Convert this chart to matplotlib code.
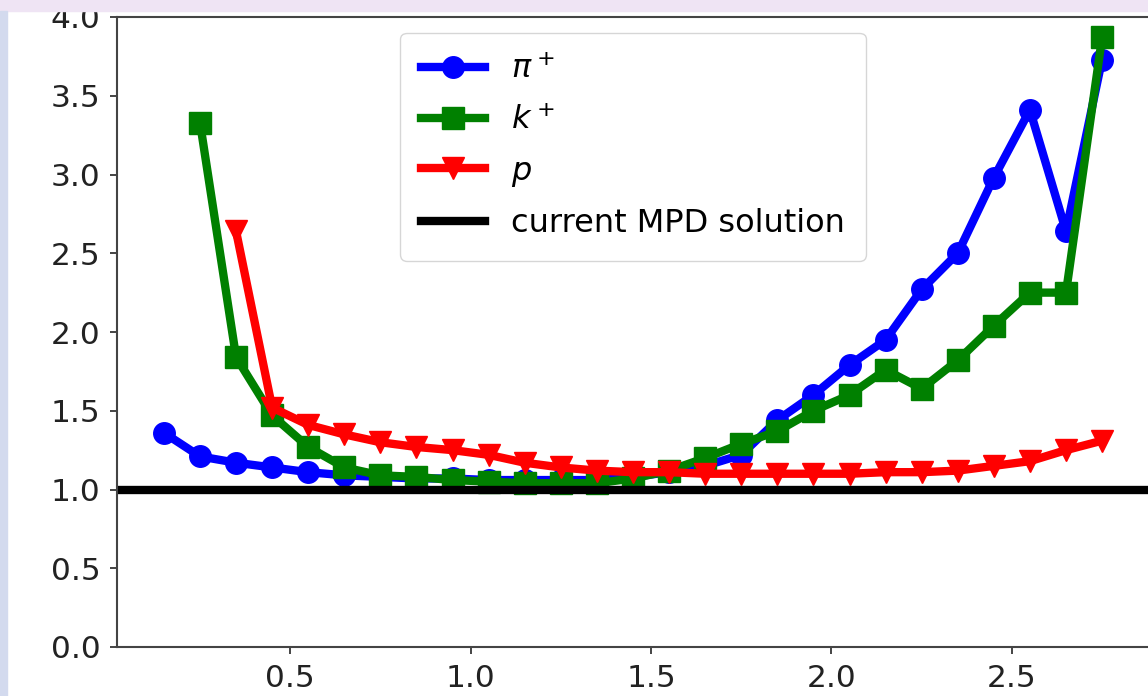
import numpy as np
import matplotlib
matplotlib.use("Agg")
import matplotlib.pyplot as plt
from matplotlib.patches import Rectangle

# momentum bin centres
x_pi = [0.15, 0.25, 0.35, 0.45, 0.55, 0.65, 0.75, 0.85, 0.95, 1.05, 1.15, 1.25, 1.35, 1.45,
        1.55, 1.65, 1.75, 1.85, 1.95, 2.05, 2.15, 2.25, 2.35, 2.45, 2.55, 2.65, 2.75]
y_pi = [1.36, 1.21, 1.17, 1.14, 1.11, 1.09, 1.08, 1.07, 1.07, 1.06, 1.06, 1.06, 1.06, 1.08,
        1.11, 1.15, 1.22, 1.44, 1.60, 1.79, 1.95, 2.27, 2.50, 2.98, 3.41, 2.64, 3.73]

x_k = [0.25, 0.35, 0.45, 0.55, 0.65, 0.75, 0.85, 0.95, 1.05, 1.15, 1.25, 1.35, 1.45,
       1.55, 1.65, 1.75, 1.85, 1.95, 2.05, 2.15, 2.25, 2.35, 2.45, 2.55, 2.65, 2.75]
y_k = [3.33, 1.84, 1.47, 1.27, 1.14, 1.09, 1.08, 1.06, 1.05, 1.04, 1.04, 1.04, 1.07,
       1.12, 1.20, 1.29, 1.37, 1.50, 1.60, 1.76, 1.64, 1.82, 2.04, 2.25, 2.25, 3.87]

x_p = [0.35, 0.45, 0.55, 0.65, 0.75, 0.85, 0.95, 1.05, 1.15, 1.25, 1.35, 1.45,
       1.55, 1.65, 1.75, 1.85, 1.95, 2.05, 2.15, 2.25, 2.35, 2.45, 2.55, 2.65, 2.75]
y_p = [2.64, 1.52, 1.41, 1.35, 1.30, 1.27, 1.25, 1.22, 1.17, 1.14, 1.12, 1.11,
       1.11, 1.10, 1.10, 1.10, 1.10, 1.10, 1.11, 1.11, 1.12, 1.15, 1.18, 1.25, 1.31]

mpd_level = 1.0

plt.rcParams['font.size'] = 22.5

fig = plt.figure(figsize=(11.48, 6.96), dpi=100)
ax = fig.add_axes([117/1148, 49/696, 1032/1148, 630/696])

ax.plot(x_pi, y_pi, 'b-', marker='o', lw=6, ms=15.5, label=r'$\pi^+$')
ax.plot(x_k, y_k, 'g-', marker='s', lw=6, ms=15.5, label=r'$k^+$')
ax.plot(x_p, y_p, 'r-', marker='v', lw=6, ms=15.5, label=r'$p$')
ax.axhline(mpd_level, color='k', lw=6, label='current MPD solution')

ax.set_ylim(0, 4.0)
ax.set_yticks(np.arange(0, 4.01, 0.5))
ax.set_xticks([0.5, 1.0, 1.5, 2.0, 2.5])

for s in ax.spines.values():
    s.set_linewidth(1.5)
    s.set_color('#444444')
ax.tick_params(length=5, width=1.4, color='#444444', pad=7, labelcolor='#222222')

ax.legend(loc='upper center', fontsize=23, labelspacing=0.62, borderpad=0.66)

# screenshot border strips
fig.patches.append(Rectangle((0, 1 - 11/696), 1, 11/696, transform=fig.transFigure,
                             color='#EFE4F4', zorder=10))
fig.patches.append(Rectangle((0, 0), 7/1148, 1 - 11/696, transform=fig.transFigure,
                             color='#D3DAEE', zorder=10))

fig.savefig('out.png', dpi=100)
